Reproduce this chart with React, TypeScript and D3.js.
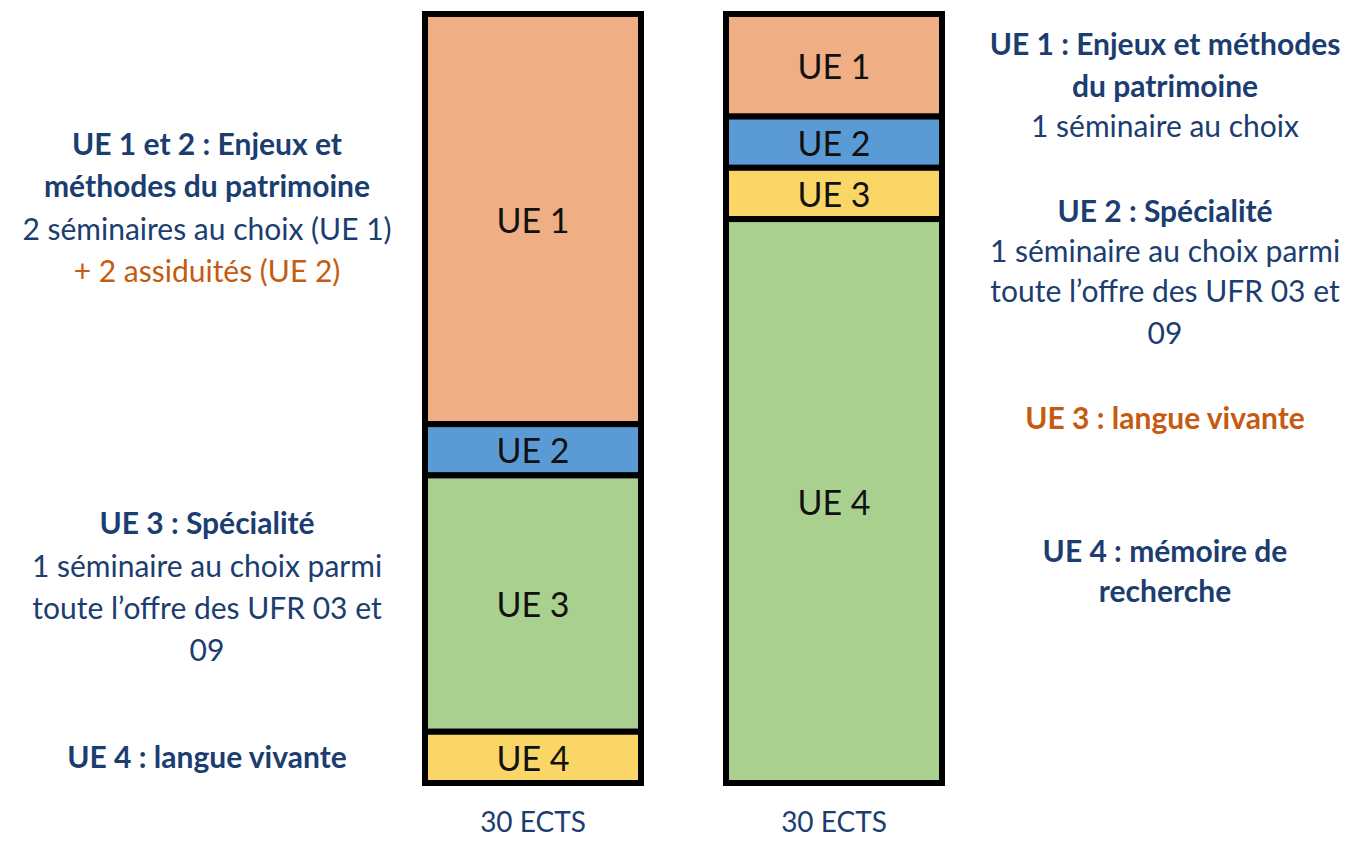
import { useEffect } from 'react';
import * as d3 from 'd3';

// Two 30-ECTS semesters, stacked by teaching unit
const semesters = ['S1', 'S2'];
const ueLabels = ['UE 1', 'UE 2', 'UE 3', 'UE 4'];
const s1Ects = [16, 2, 10, 2];
const s2Ects = [4, 2, 2, 22];
const totalLabel = '30 ECTS';

const ORANGE = '#F0AE84';
const BLUE = '#5B9BD5';
const GREEN = '#A9D08E';
const YELLOW = '#FAD666';
const NAVY = '#1B3D70';
const RUST = '#C55A11';

const s1Colors = [ORANGE, BLUE, GREEN, YELLOW];
const s2Colors = [ORANGE, BLUE, YELLOW, GREEN];

type Line = { text: string; y: number; bold?: boolean; color?: string };

const leftNotes: Line[] = [
  { text: 'UE 1 et 2 : Enjeux et', y: 143, bold: true },
  { text: 'méthodes du patrimoine', y: 185, bold: true },
  { text: '2 séminaires au choix (UE 1)', y: 228 },
  { text: '+ 2 assiduités (UE 2)', y: 270, color: RUST },
  { text: 'UE 3 : Spécialité', y: 522, bold: true },
  { text: '1 séminaire au choix parmi', y: 565 },
  { text: 'toute l’offre des UFR 03 et', y: 607 },
  { text: '09', y: 649 },
  { text: 'UE 4 : langue vivante', y: 756, bold: true },
];

const rightNotes: Line[] = [
  { text: 'UE 1 : Enjeux et méthodes', y: 43, bold: true },
  { text: 'du patrimoine', y: 85, bold: true },
  { text: '1 séminaire au choix', y: 125 },
  { text: 'UE 2 : Spécialité', y: 210, bold: true },
  { text: '1 séminaire au choix parmi', y: 250 },
  { text: 'toute l’offre des UFR 03 et', y: 290 },
  { text: '09', y: 332 },
  { text: 'UE 3 : langue vivante', y: 417, bold: true, color: RUST },
  { text: 'UE 4 : mémoire de', y: 550, bold: true },
  { text: 'recherche', y: 590, bold: true },
];

const FONT = "Lato, 'Open Sans', sans-serif";

export default function App() {
  useEffect(() => {
    document.body.style.margin = '0';
  }, []);

  const width = 1370;
  const height = 841;

  const x = d3.scaleBand().domain(semesters).range([425, 942]).paddingInner(0.2824);
  const y = d3.scaleLinear().domain([0, 30]).range([14, 783]);

  const stacks = [s1Ects, s2Ects].map((vals) => {
    const ends = d3.cumsum(vals);
    return vals.map((v, i) => ({ start: ends[i] - v, end: ends[i] }));
  });
  const colors = [s1Colors, s2Colors];

  return (
    <svg width={width} height={height} style={{ display: 'block', background: '#fff' }}>
      {semesters.map((s, si) => {
        const x0 = x(s)!;
        const bw = x.bandwidth();
        return (
          <g key={s}>
            {stacks[si].map((seg, i) => (
              <g key={i}>
                <rect
                  x={x0}
                  y={y(seg.start)}
                  width={bw}
                  height={y(seg.end) - y(seg.start)}
                  fill={colors[si][i]}
                  stroke="#000"
                  strokeWidth={6}
                />
                <text
                  x={x0 + bw / 2}
                  y={(y(seg.start) + y(seg.end)) / 2}
                  textAnchor="middle"
                  dominantBaseline="central"
                  fontFamily={FONT}
                  fontSize={34}
                  fill="#111"
                >
                  {ueLabels[i]}
                </text>
              </g>
            ))}
            <text
              x={x0 + bw / 2}
              y={832}
              textAnchor="middle"
              fontFamily={FONT}
              fontSize={28}
              fill={NAVY}
            >
              {totalLabel}
            </text>
          </g>
        );
      })}

      {[
        { cx: 207, lines: leftNotes },
        { cx: 1165, lines: rightNotes },
      ].map((block, bi) => (
        <g key={bi}>
          {block.lines.map((l, i) => (
            <text
              key={i}
              x={block.cx}
              y={l.y}
              textAnchor="middle"
              dominantBaseline="central"
              fontFamily={FONT}
              fontSize={30}
              fontWeight={l.bold ? 700 : 400}
              fill={l.color ?? NAVY}
            >
              {l.text}
            </text>
          ))}
        </g>
      ))}
    </svg>
  );
}
